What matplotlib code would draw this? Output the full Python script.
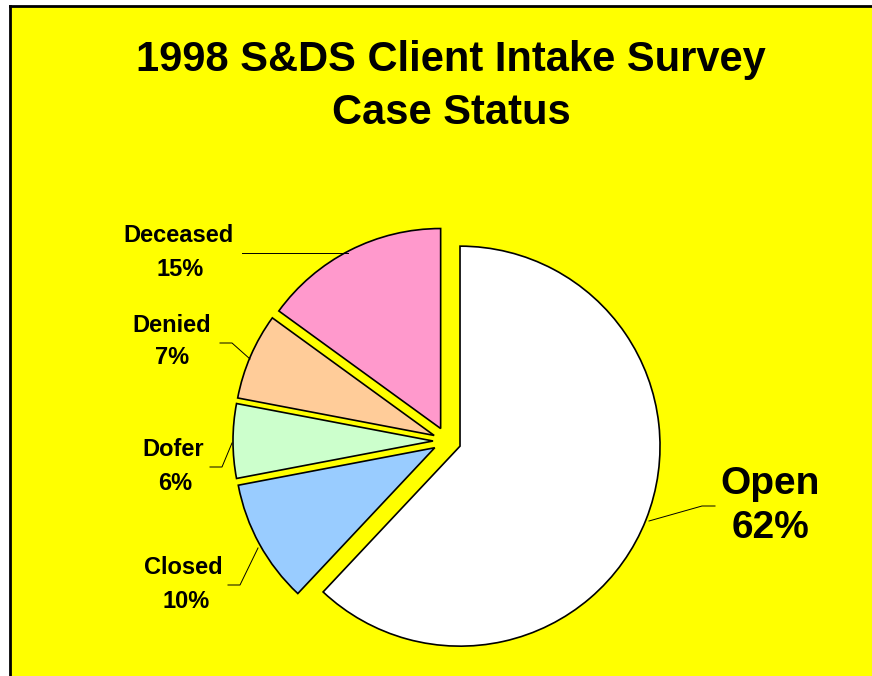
import matplotlib
matplotlib.use("Agg")
import matplotlib.pyplot as plt
from matplotlib.patches import Rectangle

# data
labels = ["Open", "Closed", "Dofer", "Denied", "Deceased"]
shares = [62, 10, 6, 7, 15]
colors = ["#FFFFFF", "#99CCFF", "#CCFFCC", "#FFCC99", "#FF99CC"]
title_lines = ["1998 S&DS Client Intake Survey", "Case Status"]

W, H = 872, 676
plt.rcParams['font.family'] = ['Liberation Sans', 'DejaVu Sans']

def Y(y):
    # image y (down) -> axes y (up)
    return H - y

fig = plt.figure(figsize=(W / 100, H / 100), dpi=100)
fig.patch.set_facecolor("white")
ax = fig.add_axes([0, 0, 1, 1])

# yellow chart area with black left/top frame
ax.add_patch(Rectangle((10, -10), W, Y(6) + 10, facecolor="#FFFF00", edgecolor="none", zorder=0))
ax.plot([10, 10], [-10, Y(6)], color="black", lw=2, solid_capstyle="projecting", zorder=1)
ax.plot([10, W + 10], [Y(6), Y(6)], color="black", lw=2, solid_capstyle="projecting", zorder=1)

wedges, _ = ax.pie(shares, colors=colors, startangle=90, counterclock=False,
                   radius=200, center=(447, Y(441)), explode=[14] * len(shares),
                   wedgeprops=dict(edgecolor="black", linewidth=1.2))
for w in wedges:
    w.set_zorder(2)

# labels (image coords: x, y of the two text lines)
label_pos = {
    "Open": ((770, 484), (770, 528), 28),
    "Closed": ((183, 567), (186, 602), 17),
    "Dofer": ((173, 449), (175, 484), 17),
    "Denied": ((172, 325), (172, 358), 17),
    "Deceased": ((178, 236), (180, 270), 17),
}
leaders = {
    "Open": [(715, 506), (702, 506), (649, 521)],
    "Closed": [(228, 585), (240, 585), (258, 548)],
    "Dofer": [(210, 467), (222, 467), (232, 443)],
    "Denied": [(220, 343), (232, 343), (250, 359)],
    "Deceased": [(242, 253), (348, 253)],
}
for lab, val in zip(labels, shares):
    (x1, y1), (x2, y2), fs = label_pos[lab]
    ax.text(x1, Y(y1), lab, ha="center", va="center", fontsize=fs, fontweight="bold")
    ax.text(x2, Y(y2), f"{val}%", ha="center", va="center", fontsize=fs, fontweight="bold")
    pts = leaders[lab]
    ax.plot([p[0] for p in pts], [Y(p[1]) for p in pts], color="black", lw=0.7, zorder=3)

ax.text(451, Y(60), title_lines[0], ha="center", va="center", fontsize=30, fontweight="bold")
ax.text(451, Y(113), title_lines[1], ha="center", va="center", fontsize=30, fontweight="bold")

ax.set_xlim(0, W)
ax.set_ylim(0, H)
ax.set_aspect("auto")
ax.axis("off")
fig.savefig("out.png", dpi=100, facecolor=fig.get_facecolor())
